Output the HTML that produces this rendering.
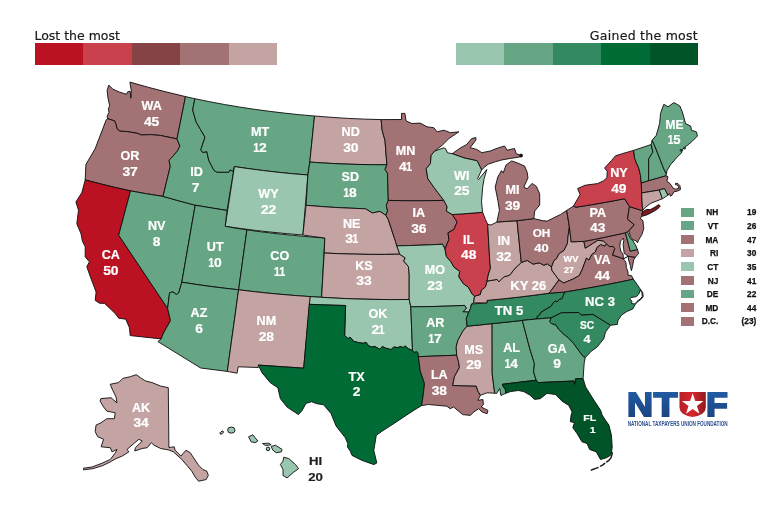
<!DOCTYPE html><html><head><meta charset="utf-8"><title>Map</title><style>
html,body{margin:0;padding:0;background:#fff}
#w{position:relative;width:776px;height:507px;overflow:hidden;background:#fff;font-family:"Liberation Sans",sans-serif;color:#231f20}
.bar{position:absolute;top:43px;height:22px;display:flex}.bar i{display:block;width:48.4px;height:22px}
.t{position:absolute;font-family:"DejaVu Sans",sans-serif;font-size:12.5px;line-height:13px;white-space:nowrap;color:#1a1a1a;-webkit-text-stroke:0.2px #1a1a1a}
.r{position:absolute;left:680.7px;height:9px;width:80px;font-weight:bold;font-size:8.3px;line-height:9px;color:#111;-webkit-text-stroke:0.25px #111}
.r i{position:absolute;left:0;top:0;width:13.4px;height:8.9px}.r b{position:absolute;right:42.4px;top:0.7px}.r s{position:absolute;right:4.4px;top:0.7px;text-decoration:none}
</style></head><body><div id="w">
<svg width="776" height="507" viewBox="0 0 776 507" style="position:absolute;left:0;top:0">
<g stroke="#0c0c0c" stroke-width="0.9" stroke-linejoin="round">
<path d="M108.8 85.1 L112.9 89.2 L119.3 92.0 L126.4 94.3 L127.7 91.8 L130.2 91.3 L130.8 98.2 L131.3 90.8 L129.9 82.1 L148.3 87.3 L166.9 92.1 L185.5 96.6 L177.0 138.9 L160.6 135.5 L150.8 134.6 L141.5 135.0 L137.0 133.2 L126.5 131.5 L120.0 131.2 L117.0 128.8 L116.1 124.5 L114.5 120.8 L107.5 118.7 L107.1 116.2 L109.0 112.4 L108.4 108.5 L109.7 105.9 L108.0 98.2 L107.1 90.5Z" fill="#a27274"/>
<path d="M107.5 118.7 L114.5 120.8 L116.1 124.5 L117.0 128.8 L120.0 131.2 L126.5 131.5 L137.0 133.2 L141.5 135.0 L150.8 134.6 L160.6 135.5 L177.0 138.9 L179.9 146.1 L177.4 151.1 L170.7 158.7 L169.0 160.3 L170.3 166.2 L163.0 196.4 L146.7 193.8 L130.5 190.9 L115.4 187.5 L100.3 183.8 L85.2 179.9 L85.9 164.5 L95.2 148.6 L106.1 120.1Z" fill="#a27274"/>
<path d="M85.2 179.9 L100.3 183.8 L115.4 187.5 L130.5 190.9 L118.7 235.2 L167.6 308.4 L170.5 320.7 L164.6 331.0 L162.9 334.4 L161.2 338.9 L130.2 335.6 L129.4 327.7 L125.8 319.2 L118.7 318.2 L115.4 313.8 L110.0 308.5 L104.5 303.4 L99.5 303.2 L95.2 300.4 L96.1 292.0 L91.0 278.6 L86.8 266.8 L89.4 261.8 L85.2 256.8 L85.2 246.7 L82.5 241.5 L81.0 233.8 L76.8 223.7 L78.5 210.3 L75.9 201.9 L81.8 192.7Z" fill="#ba1222"/>
<path d="M130.5 190.9 L146.7 193.8 L163.0 196.4 L179.1 200.9 L195.2 205.2 L181.8 282.2 L178.8 292.8 L176.3 294.5 L172.9 291.9 L169.6 292.8 L167.6 308.4 L118.7 235.2Z" fill="#66a685"/>
<path d="M185.5 96.6 L194.8 98.7 L192.7 110.1 L196.1 121.9 L200.5 129.5 L205.0 137.2 L200.8 149.8 L202.8 152.5 L206.8 151.6 L208.8 160.5 L214.0 170.4 L217.0 172.2 L228.8 172.2 L230.2 169.7 L232.8 171.5 L234.4 166.6 L227.0 210.4 L211.1 207.9 L195.2 205.2 L179.1 200.9 L163.0 196.4 L170.3 166.2 L169.0 160.3 L170.7 158.7 L177.4 151.1 L179.9 146.1 L177.0 138.9Z" fill="#66a685"/>
<path d="M194.8 98.7 L209.6 101.7 L224.5 104.5 L239.4 107.0 L254.4 109.3 L269.4 111.3 L284.4 113.1 L299.4 114.7 L314.5 116.0 L309.8 162.1 L307.9 175.0 L293.2 173.8 L278.4 172.3 L263.7 170.6 L249.1 168.7 L234.4 166.6 L232.8 171.5 L230.2 169.7 L228.8 172.2 L217.0 172.2 L214.0 170.4 L208.8 160.5 L206.8 151.6 L202.8 152.5 L200.8 149.8 L205.0 137.2 L200.5 129.5 L196.1 121.9 L192.7 110.1Z" fill="#66a685"/>
<path d="M234.4 166.6 L249.1 168.7 L263.7 170.6 L278.4 172.3 L293.2 173.8 L307.9 175.0 L302.9 235.0 L287.3 233.7 L271.8 232.2 L256.2 230.5 L240.7 228.5 L225.2 226.3Z" fill="#9ac5ae"/>
<path d="M195.2 205.2 L211.1 207.9 L227.0 210.4 L225.2 226.3 L236.0 228.2 L246.9 229.9 L238.6 289.8 L224.4 288.2 L210.2 286.4 L196.0 284.4 L181.8 282.2Z" fill="#66a685"/>
<path d="M246.9 229.9 L262.4 232.0 L278.0 233.8 L293.6 235.4 L309.2 236.8 L324.8 238.0 L321.6 297.3 L305.0 296.3 L288.3 295.0 L271.7 293.5 L255.2 291.8 L238.6 289.8Z" fill="#66a685"/>
<path d="M181.8 282.2 L196.0 284.4 L210.2 286.4 L224.4 288.2 L238.6 289.8 L227.3 371.4 L200.7 368.0 L157.9 341.6 L161.2 338.9 L162.9 334.4 L164.6 331.0 L170.5 320.7 L167.6 308.4 L169.6 292.8 L172.9 291.9 L176.3 294.5 L178.8 292.8Z" fill="#66a685"/>
<path d="M238.6 289.8 L252.9 291.5 L267.3 293.1 L281.6 294.4 L296.0 295.6 L310.4 296.6 L303.7 368.2 L258.3 365.1 L258.3 367.5 L238.2 366.8 L237.1 373.2 L227.3 371.4Z" fill="#c4a3a3"/>
<path d="M314.5 116.0 L331.1 117.3 L347.8 118.4 L364.4 119.1 L381.1 119.6 L382.2 130.5 L385.0 140.5 L386.9 164.8 L371.5 164.7 L356.0 164.4 L340.6 163.9 L325.2 163.1 L309.8 162.1Z" fill="#c4a3a3"/>
<path d="M309.8 162.1 L325.2 163.1 L340.6 163.9 L356.0 164.4 L371.5 164.7 L386.9 164.8 L385.0 169.4 L387.5 173.2 L388.3 200.4 L386.3 205.3 L387.6 211.0 L385.9 215.3 L379.9 211.4 L372.3 213.0 L365.6 208.8 L350.7 208.2 L335.8 207.5 L321.0 206.5 L306.1 205.3 L307.9 175.0Z" fill="#66a685"/>
<path d="M306.1 205.3 L321.0 206.5 L335.8 207.5 L350.7 208.2 L365.6 208.8 L372.3 213.0 L379.9 211.4 L385.9 215.3 L388.3 219.5 L395.5 241.5 L396.8 245.8 L397.8 248.5 L399.7 254.2 L384.6 254.4 L369.5 254.4 L354.4 254.1 L339.3 253.7 L324.2 253.0 L324.8 238.0 L313.8 236.6 L302.9 235.0Z" fill="#c4a3a3"/>
<path d="M324.2 253.0 L339.3 253.7 L354.4 254.1 L369.5 254.4 L384.6 254.4 L399.7 254.2 L405.2 257.9 L403.7 261.0 L408.4 266.5 L409.2 274.4 L409.2 299.5 L391.7 299.6 L374.1 299.4 L356.6 299.0 L339.1 298.3 L321.6 297.3Z" fill="#c4a3a3"/>
<path d="M310.4 296.6 L321.6 297.3 L339.1 298.3 L356.6 299.0 L374.1 299.4 L391.7 299.6 L409.2 299.5 L410.8 306.8 L412.5 350.5 L408.4 348.8 L405.0 345.9 L403.2 347.6 L400.3 346.5 L398.0 347.6 L393.9 347.0 L391.0 349.6 L385.8 348.2 L382.3 346.5 L380.0 349.4 L374.8 346.5 L371.3 347.0 L368.4 345.6 L366.1 342.4 L363.2 343.3 L358.6 342.6 L353.3 341.2 L351.6 338.7 L349.9 337.2 L348.1 338.7 L344.6 335.4 L345.6 305.5 L333.5 305.2 L321.3 304.8 L309.2 304.3Z" fill="#9ac5ae"/>
<path d="M309.2 304.3 L321.3 304.8 L333.5 305.2 L345.6 305.5 L344.6 335.4 L348.1 338.7 L349.9 337.2 L351.6 338.7 L353.3 341.2 L358.6 342.6 L363.2 343.3 L366.1 342.4 L368.4 345.6 L371.3 347.0 L374.8 346.5 L380.0 349.4 L382.3 346.5 L385.8 348.2 L391.0 349.6 L393.9 347.0 L398.0 347.6 L400.3 346.5 L403.2 347.6 L405.0 345.9 L408.4 348.8 L412.5 350.5 L414.2 352.3 L416.6 351.5 L418.0 352.7 L418.4 356.7 L420.2 371.0 L424.5 383.5 L423.3 394.5 L421.6 405.6 L413.9 410.3 L404.0 416.8 L394.0 423.5 L382.2 431.1 L376.3 435.3 L373.8 450.4 L376.8 463.0 L373.8 464.6 L362.1 460.4 L352.0 455.4 L350.3 451.2 L347.5 447.0 L347.8 443.7 L345.3 437.8 L336.1 426.0 L331.0 413.5 L323.5 404.7 L316.8 403.7 L311.7 401.7 L305.9 403.4 L302.2 410.4 L298.4 414.6 L287.1 407.1 L280.4 398.7 L277.9 387.8 L270.4 382.8 L262.0 372.7 L258.3 365.1 L303.7 368.2Z" fill="#006b35"/>
<path d="M381.1 119.6 L401.5 119.5 L401.5 113.4 L404.9 113.4 L406.1 120.9 L411.9 123.5 L420.3 123.1 L427.0 126.8 L433.8 127.7 L437.1 131.8 L443.8 130.2 L450.5 132.7 L458.9 131.8 L448.9 138.6 L442.1 145.3 L434.6 151.1 L431.2 155.3 L430.4 163.7 L426.2 168.8 L427.9 178.8 L433.8 187.2 L443.8 200.4 L429.9 200.7 L416.0 200.8 L402.2 200.7 L388.3 200.4 L387.5 173.2 L385.0 169.4 L386.9 164.8 L385.0 140.5 L382.2 130.5Z" fill="#a27274"/>
<path d="M388.3 200.4 L402.2 200.7 L416.0 200.8 L429.9 200.7 L443.8 200.4 L447.2 206.8 L446.3 211.0 L452.2 214.5 L457.2 221.9 L453.9 229.4 L448.0 232.8 L448.9 239.5 L445.0 249.0 L442.5 244.2 L431.1 244.8 L419.7 245.2 L408.2 245.6 L396.8 245.8 L395.5 241.5 L388.3 219.5 L385.9 215.3 L387.6 211.0 L386.3 205.3Z" fill="#a27274"/>
<path d="M396.8 245.8 L408.2 245.6 L419.7 245.2 L431.1 244.8 L442.5 244.2 L445.0 249.0 L446.4 256.5 L451.0 261.8 L454.1 267.3 L459.7 271.3 L458.9 276.8 L463.6 283.9 L468.3 287.1 L472.3 294.2 L474.5 296.2 L473.6 302.9 L471.5 304.0 L470.5 308.4 L468.8 312.1 L462.9 311.8 L466.3 308.4 L464.6 305.4 L451.2 306.0 L437.7 306.4 L424.3 306.7 L410.8 306.8 L409.2 299.5 L409.2 274.4 L408.4 266.5 L403.7 261.0 L405.2 257.9 L399.7 254.2 L397.8 248.5Z" fill="#9ac5ae"/>
<path d="M410.8 306.8 L424.3 306.7 L437.7 306.4 L451.2 306.0 L464.6 305.4 L466.3 308.4 L462.9 311.8 L468.8 312.1 L466.3 318.5 L467.1 326.2 L462.9 331.1 L457.9 340.3 L456.2 347.0 L456.7 355.2 L418.4 356.7 L418.0 352.7 L416.6 351.5 L414.2 352.3 L412.5 350.5Z" fill="#66a685"/>
<path d="M418.4 356.7 L456.7 355.2 L458.6 361.7 L459.4 367.6 L454.4 376.8 L452.7 385.5 L476.2 386.0 L477.9 391.1 L480.4 395.3 L477.9 400.3 L482.9 399.5 L483.4 404.5 L481.2 407.0 L488.0 410.4 L487.1 413.7 L482.1 412.0 L478.7 408.7 L473.7 412.0 L470.3 415.4 L462.8 414.6 L458.6 411.2 L453.6 407.0 L450.2 408.7 L446.8 406.2 L436.8 405.3 L428.4 404.5 L421.6 405.6 L423.3 394.5 L424.5 383.5 L420.2 371.0Z" fill="#a27274"/>
<path d="M467.1 326.2 L479.6 325.0 L492.1 323.6 L492.2 374.0 L494.7 393.2 L487.1 392.8 L480.4 395.3 L477.9 391.1 L476.2 386.0 L452.7 385.5 L454.4 376.8 L459.4 367.6 L458.6 361.7 L456.7 355.2 L456.2 347.0 L457.9 340.3 L462.9 331.1Z" fill="#c4a3a3"/>
<path d="M492.1 323.6 L507.2 322.1 L522.3 320.4 L530.2 350.2 L534.4 363.4 L533.6 371.8 L534.5 375.0 L536.2 380.2 L502.4 384.3 L503.6 387.4 L505.1 388.1 L505.9 393.2 L503.6 394.3 L500.9 395.5 L499.7 388.5 L496.6 393.6 L494.7 393.2 L492.2 374.0Z" fill="#66a685"/>
<path d="M471.5 304.0 L487.0 302.9 L487.0 300.4 L502.6 298.9 L518.2 297.2 L533.7 295.3 L549.2 293.2 L564.8 292.0 L562.2 298.5 L559.1 299.6 L557.2 302.0 L555.2 301.2 L552.9 303.1 L551.3 306.2 L545.9 309.3 L540.9 312.4 L539.7 315.1 L537.4 316.3 L536.7 319.0 L529.5 319.7 L522.3 320.4 L507.2 322.1 L492.1 323.6 L479.6 325.0 L467.1 326.2 L466.3 318.5 L468.8 312.1 L470.5 308.4Z" fill="#338a60"/>
<path d="M473.6 302.9 L474.5 296.2 L480.3 294.5 L481.2 290.3 L485.4 286.9 L487.0 281.1 L497.1 279.4 L498.8 281.9 L503.8 276.9 L509.7 275.2 L514.8 268.5 L521.3 262.5 L527.2 260.4 L533.0 264.1 L539.5 262.9 L543.9 265.3 L547.3 263.8 L551.5 267.0 L552.0 270.5 L558.9 279.9 L549.2 293.2 L533.7 295.3 L518.2 297.2 L502.6 298.9 L487.0 300.4 L487.0 302.9Z" fill="#c4a3a3"/>
<path d="M452.2 214.5 L462.3 213.9 L472.5 213.1 L482.6 212.3 L485.5 219.5 L487.7 224.4 L489.8 262.0 L490.5 268.0 L488.5 274.0 L487.0 281.1 L485.4 286.9 L481.2 290.3 L480.3 294.5 L474.5 296.2 L472.3 294.2 L468.3 287.1 L463.6 283.9 L458.9 276.8 L459.7 271.3 L454.1 267.3 L451.0 261.8 L446.4 256.5 L445.0 249.0 L448.9 239.5 L448.0 232.8 L453.9 229.4 L457.2 221.9Z" fill="#c8414d"/>
<path d="M487.7 224.4 L491.0 225.0 L496.9 222.0 L507.0 221.4 L517.0 220.7 L521.3 262.5 L514.8 268.5 L509.7 275.2 L503.8 276.9 L498.8 281.9 L497.1 279.4 L487.0 281.1 L488.5 274.0 L490.5 268.0 L489.8 262.0Z" fill="#c4a3a3"/>
<path d="M517.0 220.7 L525.4 219.7 L533.8 218.6 L542.2 220.6 L547.2 221.1 L554.0 217.7 L560.7 214.4 L566.7 210.4 L569.4 226.7 L569.0 229.5 L568.2 235.3 L567.4 243.7 L564.0 250.4 L559.0 253.8 L556.5 258.8 L554.0 260.5 L551.5 267.0 L547.3 263.8 L543.9 265.3 L539.5 262.9 L533.0 264.1 L527.2 260.4 L521.3 262.5Z" fill="#a27274"/>
<path d="M496.9 222.0 L499.4 210.2 L497.8 200.1 L496.1 191.7 L495.2 187.1 L497.8 177.0 L501.5 170.6 L503.3 173.0 L504.6 169.0 L506.1 165.0 L511.6 160.9 L517.0 162.8 L524.6 166.1 L527.1 172.0 L528.0 177.9 L523.8 187.1 L527.1 188.8 L532.1 183.4 L536.3 186.3 L539.7 193.8 L539.7 205.1 L534.7 211.0 L533.8 218.6 L525.4 219.7 L517.0 220.7Z" fill="#a27274"/>
<path d="M452.2 153.7 L460.6 147.8 L466.7 144.5 L471.7 138.5 L475.9 137.6 L475.9 140.1 L470.1 147.7 L476.8 149.4 L481.8 152.7 L490.2 151.0 L498.6 147.7 L504.5 146.0 L507.0 150.2 L514.5 148.5 L516.2 153.6 L521.0 155.6 L519.4 157.0 L510.6 158.4 L501.9 159.9 L495.6 161.7 L488.1 164.2 L483.5 168.0 L481.6 170.0 L477.2 160.8 L464.0 157.9Z" fill="#a27274"/>
<path d="M434.6 151.1 L443.8 147.8 L445.5 148.6 L447.5 152.8 L452.2 153.7 L464.0 157.9 L477.2 160.8 L481.6 170.0 L477.6 178.7 L478.5 179.6 L486.8 169.5 L484.1 178.8 L482.7 187.1 L481.5 201.8 L482.6 212.3 L472.5 213.1 L462.3 213.9 L452.2 214.5 L446.3 211.0 L447.2 206.8 L443.8 200.4 L433.8 187.2 L427.9 178.8 L426.2 168.8 L430.4 163.7 L431.2 155.3Z" fill="#9ac5ae"/>
<path d="M569.4 226.7 L571.1 241.8 L577.5 241.6 L583.9 241.4 L585.3 248.2 L592.6 243.5 L597.9 240.2 L603.2 240.9 L606.6 243.6 L604.8 246.2 L600.6 244.6 L597.0 247.5 L595.3 252.0 L591.7 254.6 L589.0 260.0 L586.4 258.2 L584.6 263.1 L581.9 270.2 L579.3 275.5 L573.1 279.0 L567.7 281.3 L563.8 283.0 L558.9 279.9 L552.0 270.5 L551.5 267.0 L554.0 260.5 L556.5 258.8 L559.0 253.8 L564.0 250.4 L567.4 243.7 L568.2 235.3 L569.0 229.5Z" fill="#c4a3a3"/>
<path d="M549.2 293.2 L558.9 279.9 L563.8 283.0 L567.7 281.3 L573.1 279.0 L579.3 275.5 L581.9 270.2 L584.6 263.1 L586.4 258.2 L589.0 260.0 L591.7 254.6 L595.3 252.0 L597.0 247.5 L600.6 244.6 L604.8 246.2 L606.6 243.6 L609.5 246.6 L613.2 246.4 L614.8 248.6 L612.6 255.1 L620.9 257.8 L623.4 258.9 L625.9 262.2 L626.4 267.7 L628.1 272.2 L627.8 275.1 L631.4 275.6 L633.4 279.2 L622.0 281.6 L610.6 283.9 L599.2 286.1 L587.8 288.2 L576.3 290.2 L564.8 292.0Z" fill="#a27274"/>
<path d="M635.3 257.3 L633.6 260.0 L632.5 266.6 L631.4 270.7 L630.3 265.5 L628.6 260.0 L628.1 256.2Z" fill="#a27274"/>
<path d="M583.9 241.4 L594.3 239.4 L604.6 237.3 L615.0 235.1 L625.3 232.8 L630.3 251.2 L637.5 249.5 L638.6 253.4 L635.3 257.3 L628.1 256.2 L623.4 258.9 L620.9 257.8 L612.6 255.1 L614.8 248.6 L613.2 246.4 L609.5 246.6 L603.2 240.9 L597.9 240.2 L592.6 243.5 L585.3 248.2Z" fill="#a27274"/>
<path d="M623.4 238.2 L620.4 241.2 L619.8 246.8 L620.9 251.2 L623.1 254.5 L623.4 258.9 L628.1 256.2 L625.9 254.5 L624.2 253.4 L623.7 249.0 L623.1 244.6 L623.9 240.1Z" fill="#ffffff"/>
<path d="M625.3 232.4 L627.5 231.9 L630.3 238.5 L632.5 240.1 L635.3 244.6 L637.5 249.5 L630.3 251.2Z" fill="#66a685"/>
<path d="M566.7 210.4 L573.4 206.2 L575.9 207.2 L585.7 205.7 L595.4 204.1 L605.2 202.4 L614.9 200.6 L624.6 198.7 L629.5 206.6 L629.0 209.3 L627.5 219.1 L634.2 224.7 L628.8 231.0 L625.3 232.8 L615.0 235.1 L604.6 237.3 L594.3 239.4 L583.9 241.4 L577.5 241.6 L571.1 241.8 L569.4 226.7Z" fill="#a27274"/>
<path d="M629.5 206.6 L642.6 210.8 L641.9 215.5 L640.4 218.6 L642.9 220.6 L643.8 228.5 L641.9 234.6 L638.6 240.1 L637.5 242.9 L636.2 240.8 L632.5 239.6 L630.5 236.5 L628.8 231.0 L634.2 224.7 L627.5 219.1 L629.0 209.3Z" fill="#a27274"/>
<path d="M573.4 206.2 L580.1 194.5 L577.6 188.6 L585.2 185.2 L597.5 183.6 L603.3 180.9 L606.9 177.7 L607.2 171.3 L604.6 168.0 L611.7 160.3 L615.5 155.8 L623.8 153.2 L633.6 150.4 L634.7 158.4 L636.1 162.1 L638.9 168.5 L640.5 175.5 L641.3 183.0 L641.6 193.0 L642.2 205.4 L642.6 210.8 L629.5 206.6 L624.6 198.7 L614.9 200.6 L605.2 202.4 L595.4 204.1 L585.7 205.7 L575.9 207.2Z" fill="#c8414d"/>
<path d="M641.8 213.8 L643.3 211.3 L646.4 209.6 L650.5 209.5 L655.1 207.0 L658.7 204.6 L660.3 205.9 L657.6 209.0 L652.5 212.1 L647.4 214.7 L642.3 216.3Z" fill="#7a1a20"/>
<path d="M633.6 150.4 L651.2 144.5 L652.9 152.1 L648.7 158.8 L648.7 170.0 L648.6 180.8 L641.3 183.0 L640.5 175.5 L638.9 168.5 L636.1 162.1 L634.7 158.4Z" fill="#66a685"/>
<path d="M651.2 144.5 L652.1 140.3 L654.6 145.4 L663.8 168.9 L666.3 173.9 L666.0 175.8 L648.6 180.8 L648.7 170.0 L648.7 158.8 L652.9 152.1Z" fill="#66a685"/>
<path d="M652.1 140.3 L656.3 135.3 L659.6 123.6 L660.5 113.5 L663.8 104.3 L668.0 106.8 L673.9 102.6 L679.8 105.9 L682.3 111.8 L685.6 123.6 L690.7 126.1 L691.5 130.3 L696.5 131.9 L697.4 136.1 L692.3 141.2 L687.3 145.4 L683.1 148.7 L681.4 152.9 L677.2 157.1 L670.5 164.7 L667.1 170.5 L666.3 173.9 L663.8 168.9 L654.6 145.4Z" fill="#66a685"/>
<path d="M641.3 183.0 L648.6 180.8 L666.0 175.8 L667.9 176.6 L666.9 181.3 L669.9 183.4 L673.0 188.0 L675.1 189.2 L678.6 188.5 L678.3 186.3 L676.8 184.8 L675.4 184.7 L675.6 183.3 L677.8 183.4 L679.9 185.7 L680.5 189.6 L677.1 191.2 L674.1 191.7 L672.0 195.2 L670.5 196.2 L669.4 193.6 L667.9 195.2 L664.4 188.6 L659.4 190.0 L641.6 193.0Z" fill="#a27274"/>
<path d="M641.6 193.0 L659.4 190.0 L662.3 198.8 L650.5 203.4 L645.3 207.5 L642.9 210.0 L642.3 206.0Z" fill="#c4a3a3"/>
<path d="M659.4 190.0 L664.4 188.6 L667.9 195.2 L662.3 198.8Z" fill="#9ac5ae"/>
<path d="M564.8 292.0 L576.3 290.2 L587.8 288.2 L599.2 286.1 L610.6 283.9 L622.0 281.6 L633.4 279.2 L637.0 284.3 L640.1 288.9 L642.7 292.5 L643.2 296.6 L641.1 299.2 L637.0 302.3 L635.0 304.8 L632.9 308.9 L626.8 311.5 L621.6 315.1 L618.1 320.2 L617.3 324.4 L610.5 325.3 L592.9 314.4 L581.2 315.2 L578.7 312.5 L561.4 312.8 L555.2 315.9 L551.3 317.8 L544.0 318.4 L536.7 319.0 L537.4 316.3 L539.7 315.1 L540.9 312.4 L545.9 309.3 L551.3 306.2 L552.9 303.1 L555.2 301.2 L557.2 302.0 L559.1 299.6 L562.2 298.5Z" fill="#338a60"/>
<path d="M640.2 289.8 L641.9 292.8 L642.3 296.4 L640.6 298.6 L637.0 301.4 L635.0 303.9 L631.6 303.6 L631.9 301.2 L629.8 298.9 L630.9 297.6 L636.5 296.6 L639.1 293.5Z" fill="#ffffff"/>
<path d="M551.3 317.8 L555.2 315.9 L561.4 312.8 L578.7 312.5 L581.2 315.2 L592.9 314.4 L610.5 325.3 L605.5 332.0 L603.8 338.7 L597.1 347.1 L591.2 351.3 L585.3 357.5 L582.9 356.3 L578.0 349.7 L573.2 343.1 L568.0 337.7 L563.0 333.7 L558.3 329.0 L556.0 325.2 L551.3 323.6 L549.4 321.3Z" fill="#338a60"/>
<path d="M522.3 320.4 L529.5 319.7 L536.7 319.0 L544.0 318.4 L551.3 317.8 L549.4 321.3 L551.3 323.6 L556.0 325.2 L558.3 329.0 L563.0 333.7 L568.0 337.7 L573.2 343.1 L578.0 349.7 L582.9 356.3 L585.3 357.5 L584.3 362.0 L583.9 366.8 L583.1 378.5 L575.5 378.9 L574.7 384.4 L573.8 381.0 L538.4 382.6 L536.2 380.2 L534.5 375.0 L533.6 371.8 L534.4 363.4 L530.2 350.2Z" fill="#66a685"/>
<path d="M502.4 384.3 L536.2 380.2 L538.4 382.6 L573.8 381.0 L574.7 384.4 L575.5 378.9 L583.1 378.5 L585.6 386.9 L594.0 400.3 L600.7 410.4 L602.1 415.0 L605.7 420.5 L608.9 425.1 L611.4 435.1 L612.2 446.9 L611.4 453.6 L610.5 455.3 L606.3 457.8 L600.5 459.5 L596.3 451.9 L589.6 449.4 L587.0 443.5 L582.0 441.8 L577.0 433.5 L572.8 427.6 L574.5 422.6 L570.3 421.7 L571.1 415.0 L572.1 412.1 L568.8 405.4 L562.1 401.2 L555.4 394.5 L547.0 393.3 L540.3 398.7 L534.5 399.4 L529.9 395.1 L523.7 391.6 L518.3 390.5 L510.5 391.6 L505.9 393.2 L505.1 388.1 L503.6 387.4Z" fill="#005427"/>
<path d="M110.2 384.3 L118.6 382.6 L122.8 378.4 L130.3 376.7 L136.2 374.7 L140.4 377.6 L145.4 380.9 L152.1 382.6 L160.5 386.0 L168.3 387.7 L168.9 447.5 L174.2 446.8 L175.1 450.2 L180.9 456.1 L186.0 450.2 L190.2 452.7 L198.6 465.3 L202.8 469.5 L206.9 471.2 L208.3 475.4 L206.1 479.6 L198.6 481.2 L195.2 477.0 L191.8 471.2 L186.8 465.3 L181.8 459.4 L173.4 451.9 L169.0 450.0 L160.7 448.5 L154.0 445.2 L151.4 442.7 L147.2 447.7 L142.2 448.5 L134.7 451.0 L135.5 447.7 L142.2 441.0 L138.9 439.3 L133.8 443.5 L127.1 449.4 L128.8 451.9 L122.1 456.1 L115.4 458.9 L110.3 461.9 L102.8 465.6 L92.7 468.7 L83.5 469.8 L83.5 468.2 L91.9 467.0 L101.9 463.3 L110.3 459.4 L115.4 452.7 L117.0 449.4 L112.0 451.9 L110.3 447.7 L101.1 446.8 L103.6 439.3 L97.8 436.8 L95.2 431.7 L96.1 425.0 L100.9 422.9 L106.8 418.7 L114.4 418.7 L115.2 412.8 L106.8 411.1 L103.5 406.9 L100.1 401.1 L100.9 398.6 L111.0 397.7 L116.9 402.8 L116.0 396.9 L112.7 390.2Z" fill="#c4a3a3"/>
<path d="M248.6 436.8 L252.8 434.8 L257.8 441.0 L255.3 442.7 L251.1 441.8Z" fill="#9ac5ae"/>
<path d="M262.5 443.5 L268.7 443.2 L271.2 444.8 L265.3 445.5Z" fill="#9ac5ae"/>
<path d="M271.2 446.5 L275.4 445.2 L282.1 449.4 L281.3 451.9 L276.2 452.7 L272.9 450.2Z" fill="#9ac5ae"/>
<path d="M283.8 457.2 L288.8 458.6 L295.5 464.5 L298.6 468.7 L293.9 472.0 L287.1 477.9 L283.0 475.4 L283.0 469.5 L280.4 464.5 L283.0 461.1Z" fill="#9ac5ae"/>
<ellipse cx="221.7" cy="432.6" rx="2" ry="1.1" transform="rotate(-35 221.7 432.6)" fill="#9ac5ae"/>
<ellipse cx="231.3" cy="430.1" rx="3.7" ry="3.1" fill="#9ac5ae"/>
<circle cx="268" cy="448.9" r="1.8" fill="#9ac5ae"/>
<circle cx="521.0" cy="155.6" r="1.5" fill="#111"/>
<circle cx="681.0" cy="150.3" r="0.9" fill="#1d8a4c"/><circle cx="684.6" cy="148.2" r="0.9" fill="#1d8a4c"/>
</g>
<path d="M612.2 452.8 Q611.8 458 608.9 460.3 L602.1 465.3 L597.1 467.9 L591.2 470" fill="none" stroke="#1a1a1a" stroke-width="1.5" stroke-linecap="round" stroke-dasharray="11 2.5 5 3 7 20"/>
<g font-family="'Liberation Sans',sans-serif" font-weight="bold" font-size="12.6" fill="#fff" stroke="#fff" stroke-width="0.2" text-anchor="middle">
<text transform="translate(151.6 109.9) scale(1.00 1)" font-size="12.6">WA</text>
<text transform="translate(143.88 125.5) scale(1.10 1)" text-anchor="start" font-size="12.6">4</text><text transform="translate(151.53 125.5) scale(1.10 1)" text-anchor="start" font-size="12.6">5</text>
<text transform="translate(130.0 160.4) scale(1.00 1)" font-size="12.6">OR</text>
<text transform="translate(122.44 176.0) scale(1.10 1)" text-anchor="start" font-size="12.6">3</text><text transform="translate(129.95 176.0) scale(1.10 1)" text-anchor="start" font-size="12.6">7</text>
<text transform="translate(260.2 136.0) scale(1.00 1)" font-size="12.6">MT</text>
<text transform="translate(253.20 151.6) scale(0.86 1)" text-anchor="start" font-size="12.6">1</text><text transform="translate(259.03 151.6) scale(1.10 1)" text-anchor="start" font-size="12.6">2</text>
<text transform="translate(196.5 176.0) scale(1.00 1)" font-size="12.6">ID</text>
<text transform="translate(191.65 191.6) scale(1.10 1)" text-anchor="start" font-size="12.6">7</text>
<text transform="translate(350.7 136.2) scale(1.00 1)" font-size="12.6">ND</text>
<text transform="translate(343.14 151.8) scale(1.10 1)" text-anchor="start" font-size="12.6">3</text><text transform="translate(350.66 151.8) scale(1.10 1)" text-anchor="start" font-size="12.6">0</text>
<text transform="translate(350.3 181.4) scale(1.00 1)" font-size="12.6">SD</text>
<text transform="translate(343.30 197.0) scale(0.86 1)" text-anchor="start" font-size="12.6">1</text><text transform="translate(349.09 197.0) scale(1.10 1)" text-anchor="start" font-size="12.6">8</text>
<text transform="translate(351.7 227.6) scale(1.00 1)" font-size="12.6">NE</text>
<text transform="translate(345.29 243.2) scale(1.10 1)" text-anchor="start" font-size="12.6">3</text><text transform="translate(352.30 243.2) scale(0.86 1)" text-anchor="start" font-size="12.6">1</text>
<text transform="translate(363.9 269.6) scale(1.00 1)" font-size="12.6">KS</text>
<text transform="translate(356.34 285.2) scale(1.10 1)" text-anchor="start" font-size="12.6">3</text><text transform="translate(363.94 285.2) scale(1.10 1)" text-anchor="start" font-size="12.6">3</text>
<text transform="translate(268.5 197.9) scale(1.00 1)" font-size="12.6">WY</text>
<text transform="translate(260.88 213.5) scale(1.10 1)" text-anchor="start" font-size="12.6">2</text><text transform="translate(268.48 213.5) scale(1.10 1)" text-anchor="start" font-size="12.6">2</text>
<text transform="translate(156.7 230.4) scale(1.00 1)" font-size="12.6">NV</text>
<text transform="translate(152.84 246.0) scale(1.10 1)" text-anchor="start" font-size="12.6">8</text>
<text transform="translate(215.2 251.4) scale(1.00 1)" font-size="12.6">UT</text>
<text transform="translate(208.20 267.0) scale(0.86 1)" text-anchor="start" font-size="12.6">1</text><text transform="translate(214.01 267.0) scale(1.10 1)" text-anchor="start" font-size="12.6">0</text>
<text transform="translate(199.0 317.2) scale(1.00 1)" font-size="12.6">AZ</text>
<text transform="translate(195.14 332.8) scale(1.10 1)" text-anchor="start" font-size="12.6">6</text>
<text transform="translate(110.8 259.2) scale(1.00 1)" font-size="12.6">CA</text>
<text transform="translate(103.13 274.8) scale(1.10 1)" text-anchor="start" font-size="12.6">5</text><text transform="translate(110.76 274.8) scale(1.10 1)" text-anchor="start" font-size="12.6">0</text>
<text transform="translate(279.8 260.4) scale(1.00 1)" font-size="12.6">CO</text>
<text transform="translate(273.95 276.0) scale(0.86 1)" text-anchor="start" font-size="12.6">1</text><text transform="translate(279.25 276.0) scale(0.86 1)" text-anchor="start" font-size="12.6">1</text>
<text transform="translate(266.4 325.3) scale(1.00 1)" font-size="12.6">NM</text>
<text transform="translate(258.78 340.9) scale(1.10 1)" text-anchor="start" font-size="12.6">2</text><text transform="translate(266.34 340.9) scale(1.10 1)" text-anchor="start" font-size="12.6">8</text>
<text transform="translate(377.9 318.1) scale(1.00 1)" font-size="12.6">OK</text>
<text transform="translate(371.43 333.7) scale(1.10 1)" text-anchor="start" font-size="12.6">2</text><text transform="translate(378.50 333.7) scale(0.86 1)" text-anchor="start" font-size="12.6">1</text>
<text transform="translate(356.6 380.7) scale(1.00 1)" font-size="12.6">TX</text>
<text transform="translate(352.78 396.3) scale(1.10 1)" text-anchor="start" font-size="12.6">2</text>
<text transform="translate(439.3 379.3) scale(1.00 1)" font-size="12.6">LA</text>
<text transform="translate(431.74 394.9) scale(1.10 1)" text-anchor="start" font-size="12.6">3</text><text transform="translate(439.24 394.9) scale(1.10 1)" text-anchor="start" font-size="12.6">8</text>
<text transform="translate(418.7 217.2) scale(1.00 1)" font-size="12.6">IA</text>
<text transform="translate(411.14 232.8) scale(1.10 1)" text-anchor="start" font-size="12.6">3</text><text transform="translate(418.64 232.8) scale(1.10 1)" text-anchor="start" font-size="12.6">6</text>
<text transform="translate(468.7 243.8) scale(1.00 1)" font-size="12.6">IL</text>
<text transform="translate(460.98 259.4) scale(1.10 1)" text-anchor="start" font-size="12.6">4</text><text transform="translate(468.64 259.4) scale(1.10 1)" text-anchor="start" font-size="12.6">8</text>
<text transform="translate(434.9 274.1) scale(1.00 1)" font-size="12.6">MO</text>
<text transform="translate(427.28 289.7) scale(1.10 1)" text-anchor="start" font-size="12.6">2</text><text transform="translate(434.94 289.7) scale(1.10 1)" text-anchor="start" font-size="12.6">3</text>
<text transform="translate(405.5 154.9) scale(1.00 1)" font-size="12.6">MN</text>
<text transform="translate(398.93 170.5) scale(1.10 1)" text-anchor="start" font-size="12.6">4</text><text transform="translate(406.10 170.5) scale(0.86 1)" text-anchor="start" font-size="12.6">1</text>
<text transform="translate(461.8 179.6) scale(1.00 1)" font-size="12.6">WI</text>
<text transform="translate(454.18 195.2) scale(1.10 1)" text-anchor="start" font-size="12.6">2</text><text transform="translate(461.73 195.2) scale(1.10 1)" text-anchor="start" font-size="12.6">5</text>
<text transform="translate(512.6 193.9) scale(1.00 1)" font-size="12.6">MI</text>
<text transform="translate(505.04 209.5) scale(1.10 1)" text-anchor="start" font-size="12.6">3</text><text transform="translate(512.56 209.5) scale(1.10 1)" text-anchor="start" font-size="12.6">9</text>
<text transform="translate(541.5 237.4) scale(1.00 1)" font-size="11.8">OH</text>
<text transform="translate(534.27 252.0) scale(1.10 1)" text-anchor="start" font-size="11.8">4</text><text transform="translate(541.46 252.0) scale(1.10 1)" text-anchor="start" font-size="11.8">0</text>
<text transform="translate(503.8 245.0) scale(1.00 1)" font-size="12.6">IN</text>
<text transform="translate(496.24 260.6) scale(1.10 1)" text-anchor="start" font-size="12.6">3</text><text transform="translate(503.78 260.6) scale(1.10 1)" text-anchor="start" font-size="12.6">2</text>
<text transform="translate(602.4 264.3) scale(1.00 1)" font-size="12.6">VA</text>
<text transform="translate(594.68 279.9) scale(1.10 1)" text-anchor="start" font-size="12.6">4</text><text transform="translate(602.28 279.9) scale(1.10 1)" text-anchor="start" font-size="12.6">4</text>
<text transform="translate(618.9 177.2) scale(1.00 1)" font-size="12.6">NY</text>
<text transform="translate(611.18 192.8) scale(1.10 1)" text-anchor="start" font-size="12.6">4</text><text transform="translate(618.86 192.8) scale(1.10 1)" text-anchor="start" font-size="12.6">9</text>
<text transform="translate(597.7 216.7) scale(1.00 1)" font-size="12.6">PA</text>
<text transform="translate(589.98 232.3) scale(1.10 1)" text-anchor="start" font-size="12.6">4</text><text transform="translate(597.74 232.3) scale(1.10 1)" text-anchor="start" font-size="12.6">3</text>
<text transform="translate(674.4 129.3) scale(1.00 1)" font-size="11.9">ME</text>
<text transform="translate(667.79 144.0) scale(0.86 1)" text-anchor="start" font-size="11.9">1</text><text transform="translate(673.24 144.0) scale(1.10 1)" text-anchor="start" font-size="11.9">5</text>
<text transform="translate(587.1 328.7) scale(0.88 1)" font-size="11.5">SC</text>
<text transform="translate(583.52 342.9) scale(1.10 1)" text-anchor="start" font-size="11.5">4</text>
<text transform="translate(557.1 352.8) scale(1.00 1)" font-size="12.6">GA</text>
<text transform="translate(553.26 368.4) scale(1.10 1)" text-anchor="start" font-size="12.6">9</text>
<text transform="translate(511.6 351.9) scale(1.00 1)" font-size="12.6">AL</text>
<text transform="translate(504.60 367.5) scale(0.86 1)" text-anchor="start" font-size="12.6">1</text><text transform="translate(510.33 367.5) scale(1.10 1)" text-anchor="start" font-size="12.6">4</text>
<text transform="translate(435.3 327.3) scale(1.00 1)" font-size="12.6">AR</text>
<text transform="translate(428.30 342.9) scale(0.86 1)" text-anchor="start" font-size="12.6">1</text><text transform="translate(434.10 342.9) scale(1.10 1)" text-anchor="start" font-size="12.6">7</text>
<text transform="translate(473.8 353.8) scale(1.00 1)" font-size="12.6">MS</text>
<text transform="translate(466.18 369.4) scale(1.10 1)" text-anchor="start" font-size="12.6">2</text><text transform="translate(473.76 369.4) scale(1.10 1)" text-anchor="start" font-size="12.6">9</text>
<text transform="translate(141.0 411.5) scale(1.00 1)" font-size="12.6">AK</text>
<text transform="translate(133.44 427.1) scale(1.10 1)" text-anchor="start" font-size="12.6">3</text><text transform="translate(140.88 427.1) scale(1.10 1)" text-anchor="start" font-size="12.6">4</text>
<text transform="translate(528.3 289.9) scale(1.04 1)" font-size="12.6">KY 26</text>
<text transform="translate(509.0 315.0) scale(1.04 1)" font-size="12.6">TN 5</text>
<text transform="translate(600.0 305.6) scale(1.04 1)" font-size="12.6">NC 3</text>
<text transform="translate(570.9 261.8) scale(1.08 1)" font-size="8.5">WV</text><text transform="translate(568.9 272.8) scale(1.08 1)" font-size="8.2">27</text>
<text transform="translate(589.8 420.8) scale(1.08 1)" font-size="9.8">FL</text><text transform="translate(592.8 433.3) scale(1.08 1)" font-size="9.8">1</text>
<text transform="translate(315.6 465.4) scale(1.15 1)" font-size="11.5" fill="#231f20" stroke="#231f20">HI</text><text transform="translate(315.6 481) scale(1.15 1)" font-size="11.5" fill="#231f20" stroke="#231f20">20</text>
</g>
</svg>
<div class="t" style="left:34.4px;top:28.6px">Lost the most</div>
<div class="bar" style="left:35px"><i style="background:#ba1222"></i><i style="background:#c8414d"></i><i style="background:#854345"></i><i style="background:#a27274"></i><i style="background:#c4a3a3"></i></div>
<div class="t" style="right:78.3px;margin-right:-0.27px;top:28.6px;letter-spacing:0.27px">Gained the most</div>
<div class="bar" style="left:456px"><i style="background:#9ac5ae"></i><i style="background:#66a685"></i><i style="background:#338a60"></i><i style="background:#006b35"></i><i style="background:#005427"></i></div>
<div class="r" style="top:207.7px"><i style="background:#66a685"></i><b>NH</b><s>19</s></div>
<div class="r" style="top:221.3px"><i style="background:#66a685"></i><b>VT</b><s>26</s></div>
<div class="r" style="top:235.0px"><i style="background:#a27274"></i><b>MA</b><s>47</s></div>
<div class="r" style="top:248.6px"><i style="background:#c4a3a3"></i><b>RI</b><s>30</s></div>
<div class="r" style="top:262.2px"><i style="background:#9ac5ae"></i><b>CT</b><s>35</s></div>
<div class="r" style="top:275.9px"><i style="background:#a27274"></i><b>NJ</b><s>41</s></div>
<div class="r" style="top:289.5px"><i style="background:#66a685"></i><b>DE</b><s>22</s></div>
<div class="r" style="top:303.1px"><i style="background:#a27274"></i><b>MD</b><s>44</s></div>
<div class="r" style="top:316.7px"><i style="background:#a27274"></i><b>D.C.</b><s>(23)</s></div>
<svg width="110" height="40" viewBox="0 0 110 40" style="position:absolute;left:624px;top:388px">
<defs><linearGradient id="bl" x1="0" y1="0" x2="0" y2="1"><stop offset="0" stop-color="#2160a8"/><stop offset="1" stop-color="#1b3f7c"/></linearGradient>
<linearGradient id="rd" x1="0" y1="0" x2="1" y2="0"><stop offset="0" stop-color="#b81f27"/><stop offset="0.5" stop-color="#d8262c"/><stop offset="1" stop-color="#8c1a1e"/></linearGradient></defs>
<g font-family="'Liberation Sans',sans-serif" font-weight="bold" font-size="33.6" fill="url(#bl)" stroke="url(#bl)" stroke-width="1.9" stroke-linejoin="miter">
<text transform="translate(3.09 28.1) scale(1.073 1)">N</text>
<text transform="translate(29.77 28.1) scale(1.152 1)">T</text>
<text transform="translate(82.0 28.1) scale(1.063 1)">F</text></g>
<path d="M55.5 4 H81.8 V19.5 Q81.8 26.8 68.65 29.1 Q55.5 26.8 55.5 19.5 Z" fill="url(#rd)"/>
<path d="M68.7 5.2 L71.3 13 L79.5 13 L72.9 17.9 L75.4 25.8 L68.7 20.9 L62 25.8 L64.5 17.9 L57.9 13 L66.1 13 Z" fill="#fff"/>
<text x="3.7" y="37.8" font-family="'Liberation Sans',sans-serif" font-weight="bold" font-size="6.7" fill="#2a4b8d" textLength="100" lengthAdjust="spacingAndGlyphs">NATIONAL TAXPAYERS UNION FOUNDATION</text>
</svg>
</div></body></html>
